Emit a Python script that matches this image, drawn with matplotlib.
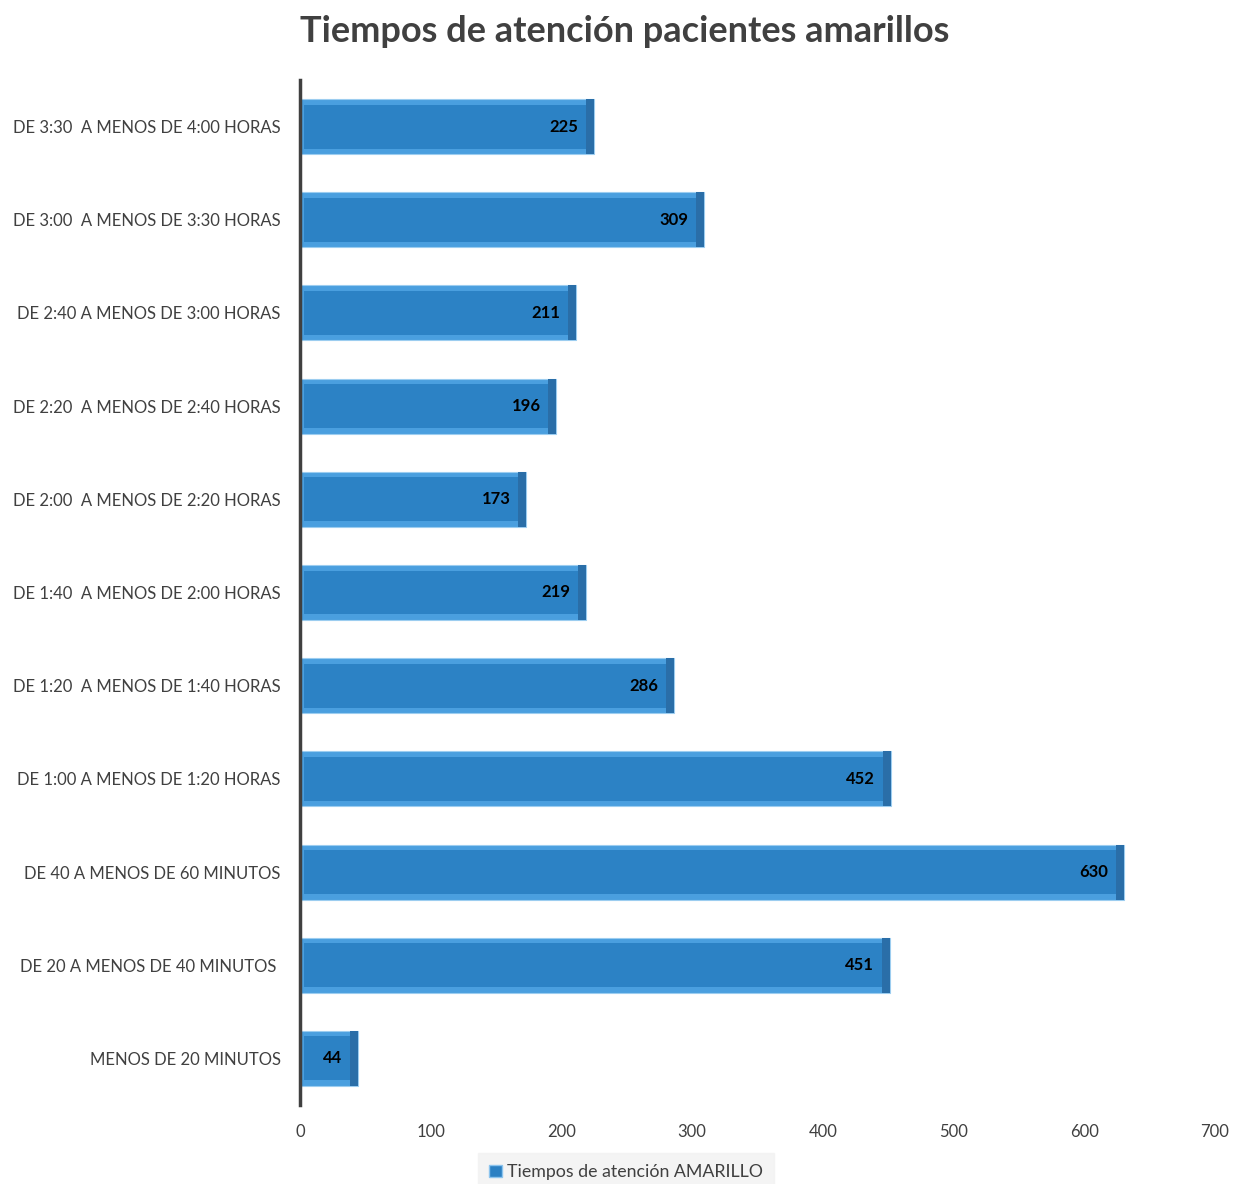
import matplotlib.pyplot as plt
from matplotlib.patches import Patch

# Data (bottom to top)
categories = ['MENOS DE 20 MINUTOS',
              'DE 20 A MENOS DE 40 MINUTOS ',
              'DE 40 A MENOS DE 60 MINUTOS',
              'DE 1:00 A MENOS DE 1:20 HORAS',
              'DE 1:20  A MENOS DE 1:40 HORAS',
              'DE 1:40  A MENOS DE 2:00 HORAS',
              'DE 2:00  A MENOS DE 2:20 HORAS',
              'DE 2:20  A MENOS DE 2:40 HORAS',
              'DE 2:40 A MENOS DE 3:00 HORAS',
              'DE 3:00  A MENOS DE 3:30 HORAS',
              'DE 3:30  A MENOS DE 4:00 HORAS']
values = [44, 451, 630, 452, 286, 219, 173, 196, 211, 309, 225]
xticks = [0, 100, 200, 300, 400, 500, 600, 700]

plt.rcParams['font.family'] = ['Lato', 'DejaVu Sans']

fig = plt.figure(figsize=(12.33, 11.84), dpi=100)
ax = fig.add_axes([300/1233, 1-1105/1184, 915/1233, 1025/1184])

ypos = list(range(len(categories)))
bh = 0.59
# outer bevel
ax.barh(ypos, values, height=bh, color='#4A9FDF', edgecolor='#9CCDF0', linewidth=0.8, zorder=2)
# darker right end
ax.barh(ypos, [6] * len(values), left=[v - 6 for v in values], height=bh,
        color='#2A6EA8', linewidth=0, zorder=3)
# inner face
ax.barh(ypos, [v - 9 for v in values], left=3, height=bh * 0.8,
        color='#2C82C5', linewidth=0, zorder=4)

for y, v in zip(ypos, values):
    ax.text(v - 12, y, str(v), ha='right', va='center', fontsize=12,
            fontweight='bold', color='black', zorder=5)

ax.set_xlim(0, 700)
ax.set_ylim(-0.5, len(categories) - 0.5)
ax.set_yticks(ypos)
ax.set_yticklabels(categories, fontsize=12, color='#404040')
ax.set_xticks(xticks)
ax.set_xticklabels([str(t) for t in xticks], fontsize=12, color='#404040')
ax.tick_params(axis='both', length=0)
ax.tick_params(axis='y', pad=14)
ax.tick_params(axis='x', pad=14)
for s in ['top', 'right', 'bottom']:
    ax.spines[s].set_visible(False)
ax.spines['left'].set_color('#404040')
ax.spines['left'].set_linewidth(2.5)
ax.spines['left'].set_zorder(6)

fig.suptitle('Tiempos de atención pacientes amarillos', x=625/1233, y=1-32/1184,
             va='center', fontsize=26, fontweight='bold', color='#404040')

handle = Patch(facecolor='#2B80C3', edgecolor='#8CC4EE')
leg = fig.legend([handle], ['Tiempos de atención AMARILLO'], loc='center',
                 bbox_to_anchor=(626/1233, 1-1172/1184), frameon=True, fontsize=12.8,
                 handlelength=0.7, handleheight=0.7, handletextpad=0.3,
                 borderpad=0.6, borderaxespad=0)
leg.get_frame().set_facecolor('#F2F2F2')
leg.get_frame().set_edgecolor('#F2F2F2')
leg.get_frame().set_boxstyle('square', pad=0.0)
for t in leg.get_texts():
    t.set_color('#404040')

fig.savefig('out.png', dpi=100)
